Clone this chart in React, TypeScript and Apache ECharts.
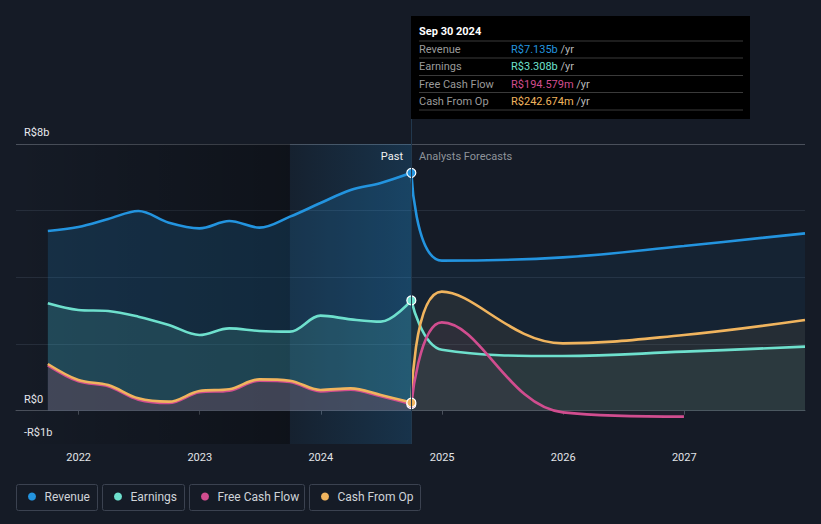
import React, { useEffect, useRef } from "react";
import * as echarts from "echarts";

// ---- data (R$ billions) ----
const PAST_DATES = [
  "2021-09-30", "2021-12-31", "2022-03-31", "2022-06-30", "2022-09-30", "2022-12-31",
  "2023-03-31", "2023-06-30", "2023-09-30", "2023-12-31", "2024-03-31", "2024-06-30", "2024-09-30",
];
const FORECAST_DATES = ["2024-09-30", "2024-12-31", "2025-12-31", "2026-12-31", "2027-12-31"];
const FCF_FORECAST_DATES = ["2024-09-30", "2024-12-31", "2025-12-31", "2026-12-31"];

const REVENUE_PAST = [5.39, 5.51, 5.75, 5.99, 5.64, 5.47, 5.69, 5.49, 5.82, 6.23, 6.62, 6.83, 7.135];
const EARNINGS_PAST = [3.22, 3.02, 2.99, 2.82, 2.57, 2.27, 2.47, 2.39, 2.37, 2.85, 2.74, 2.67, 3.308];
const FCF_PAST = [1.36, 0.88, 0.73, 0.33, 0.23, 0.55, 0.6, 0.9, 0.86, 0.58, 0.63, 0.43, 0.194579];
const CFO_PAST = [1.4, 0.92, 0.77, 0.37, 0.27, 0.59, 0.64, 0.94, 0.9, 0.62, 0.67, 0.47, 0.242674];

const REVENUE_FC = [7.135, 4.5, 4.6, 4.94, 5.32];
const EARNINGS_FC = [3.308, 1.83, 1.64, 1.77, 1.92];
const CFO_FC = [0.242674, 3.57, 2.02, 2.27, 2.72];
const FCF_FC = [0.194579, 2.65, -0.05, -0.18];

const SERIES_NAMES = ["Revenue", "Earnings", "Free Cash Flow", "Cash From Op"];
const SERIES_COLORS = ["#2394df", "#6ee0cd", "#d14d8f", "#f0b45e"];

const Y_LABEL_VALUES = [-1, 0, 8];
const Y_LABEL_TEXTS = ["-R$1b", "R$0", "R$8b"];

const X_MIN = "2021-06-26";
const X_MAX = "2027-12-31";
const BAND_START = "2023-09-30";
const NOW_DATE = "2024-09-30";

const FONT = "Roboto, sans-serif";
const MONTHS = ["Jan", "Feb", "Mar", "Apr", "May", "Jun", "Jul", "Aug", "Sep", "Oct", "Nov", "Dec"];

function fmtDate(s: string) {
  const [y, m, d] = s.split("-").map(Number);
  return `${MONTHS[m - 1]} ${d} ${y}`;
}
function fmtMoney(v: number) {
  return v >= 1 ? `R$${v.toFixed(3)}b` : `R$${(v * 1000).toFixed(3)}m`;
}

function mkSeries(
  name: string,
  dates: string[],
  vals: number[],
  color: string,
  fill: string,
  past: boolean
) {
  const n = vals.length;
  return {
    name,
    type: "line",
    z: past ? 3 : 2,
    data: dates.map((d, i) => [d, vals[i]]),
    smooth: past ? 0.35 : 0.4,
    symbol: "circle",
    showSymbol: past,
    symbolSize: past ? (_v: any, p: any) => (p.dataIndex === n - 1 ? 9 : 0) : 0,
    itemStyle: { color, borderColor: "#ffffff", borderWidth: 1.2 },
    lineStyle: { color, width: 2.6 },
    areaStyle: { color: fill },
    silent: true,
    emphasis: { disabled: true },
  };
}

export default function App() {
  const ref = useRef<HTMLDivElement>(null);

  useEffect(() => {
    if (!ref.current) return;
    const chart = echarts.init(ref.current, undefined, { renderer: "svg" });

    const lastIdx = PAST_DATES.length - 1;
    const tipValues = [REVENUE_PAST[lastIdx], EARNINGS_PAST[lastIdx], FCF_PAST[lastIdx], CFO_PAST[lastIdx]];

    const splitColors = [
      "rgba(0,0,0,0)", // -1 (axis line drawn by x axis)
      "#b9bec6", // 0
      "rgba(0,0,0,0)",
      "#262e3b",
      "rgba(0,0,0,0)",
      "#262e3b",
      "rgba(0,0,0,0)",
      "#262e3b",
      "rgba(0,0,0,0)",
      "#4a505b", // 8
    ];

    const graphics: any[] = [];
    // tooltip box
    graphics.push({
      type: "rect",
      shape: { x: 411, y: 16, width: 339, height: 103 },
      style: { fill: "#000000" },
      z: 100,
    });
    graphics.push({
      type: "text",
      x: 419,
      y: 31,
      style: { text: fmtDate(NOW_DATE), fill: "#ffffff", font: `bold 11px ${FONT}`, verticalAlign: "middle" },
      z: 101,
    });
    const rowY = [49.5, 66.5, 84, 101];
    const sepY = [41, 58, 75.5, 92.5, 110];
    sepY.forEach((y) =>
      graphics.push({
        type: "line",
        shape: { x1: 419, y1: y, x2: 743, y2: y },
        style: { stroke: "#3a3a3a", lineWidth: 1 },
        z: 101,
      })
    );
    SERIES_NAMES.forEach((nm, i) => {
      graphics.push({
        type: "text",
        x: 419,
        y: rowY[i],
        style: { text: nm, fill: "#9a9a9a", font: `11px ${FONT}`, verticalAlign: "middle" },
        z: 101,
      });
      graphics.push({
        type: "text",
        x: 511,
        y: rowY[i],
        style: {
          text: `{v|${fmtMoney(tipValues[i])}} {u|/yr}`,
          font: `11px ${FONT}`,
          verticalAlign: "middle",
          rich: {
            v: { fill: SERIES_COLORS[i], font: `11px ${FONT}` },
            u: { fill: "#b8b8b8", font: `11px ${FONT}` },
          },
        },
        z: 101,
      });
    });
    // vertical line above grid
    graphics.push({
      type: "line",
      shape: { x1: 411.5, y1: 119, x2: 411.5, y2: 144 },
      style: { stroke: "#22384d", lineWidth: 1 },
      z: 50,
    });
    // Past / Forecast labels
    graphics.push({
      type: "text",
      x: 403,
      y: 156,
      style: { text: "Past", fill: "#f0f0f0", font: `11px ${FONT}`, align: "right", verticalAlign: "middle" },
      z: 60,
    });
    graphics.push({
      type: "text",
      x: 419,
      y: 156,
      style: { text: "Analysts Forecasts", fill: "#8e939a", font: `11px ${FONT}`, align: "left", verticalAlign: "middle" },
      z: 60,
    });
    // legend
    const legendBoxes = [
      { x: 16.5, w: 81 },
      { x: 102.5, w: 82 },
      { x: 189.5, w: 115 },
      { x: 309.5, w: 111 },
    ];
    SERIES_NAMES.forEach((nm, i) => {
      const b = legendBoxes[i];
      graphics.push({
        type: "rect",
        shape: { x: b.x, y: 484.5, width: b.w, height: 26, r: 2 },
        style: { fill: "rgba(0,0,0,0)", stroke: "#3b4250", lineWidth: 1 },
      });
      graphics.push({
        type: "circle",
        shape: { cx: b.x + 15.5, cy: 496.5, r: 4 },
        style: { fill: SERIES_COLORS[i] },
      });
      graphics.push({
        type: "text",
        x: b.x + 28,
        y: 496.5,
        style: { text: nm, fill: "#cfd3d8", font: `12px ${FONT}`, verticalAlign: "middle" },
      });
    });

    const option: any = {
      animation: false,
      backgroundColor: "#151b26",
      textStyle: { fontFamily: FONT },
      grid: { left: 16, right: 16, top: 144, bottom: 80, containLabel: false },
      xAxis: {
        type: "time",
        min: X_MIN,
        max: X_MAX,
        splitNumber: 7,
        minInterval: 365 * 24 * 3600 * 1000,
        axisLine: { show: true, lineStyle: { color: "#4a505b", width: 1 } },
        axisTick: { show: true, length: 4, lineStyle: { color: "#4a505b" } },
        axisLabel: {
          color: "#e2e4e8",
          fontSize: 11,
          margin: 8,
          formatter: "{yyyy}",
          showMinLabel: false,
          showMaxLabel: false,
          fontFamily: FONT,
        },
        splitLine: { show: false },
      },
      yAxis: {
        type: "value",
        min: -1,
        max: 8,
        interval: 1,
        axisLine: { show: false },
        axisTick: { show: false },
        axisLabel: {
          inside: true,
          margin: 8,
          color: "#e8eaee",
          fontSize: 11,
          fontFamily: FONT,
          verticalAlign: "bottom",
          padding: [0, 0, 6, 0],
          formatter: (v: number) => {
            const k = Y_LABEL_VALUES.indexOf(v);
            return k >= 0 ? Y_LABEL_TEXTS[k] : "";
          },
        },
        splitLine: { show: true, lineStyle: { color: splitColors, width: 1 } },
      },
      graphic: graphics,
      series: [
        {
          name: "bg",
          type: "line",
          z: 1,
          data: [],
          silent: true,
          markArea: {
            silent: true,
            data: [
              [
                {
                  xAxis: X_MIN,
                  itemStyle: {
                    color: {
                      type: "linear",
                      x: 0, y: 0, x2: 1, y2: 0,
                      colorStops: [
                        { offset: 0, color: "rgba(0,0,0,0)" },
                        { offset: 1, color: "rgba(0,0,0,0.32)" },
                      ],
                    },
                  },
                },
                { xAxis: BAND_START },
              ],
              [
                {
                  xAxis: BAND_START,
                  itemStyle: {
                    color: {
                      type: "linear",
                      x: 0, y: 0, x2: 1, y2: 0,
                      colorStops: [
                        { offset: 0, color: "rgba(35,148,223,0.05)" },
                        { offset: 1, color: "rgba(35,148,223,0.2)" },
                      ],
                    },
                  },
                },
                { xAxis: NOW_DATE },
              ],
            ],
          },
          markLine: {
            silent: true,
            symbol: "none",
            label: { show: false },
            lineStyle: { color: "#22384d", width: 1, type: "solid" },
            data: [{ xAxis: NOW_DATE }],
          },
        },
        mkSeries(SERIES_NAMES[0], PAST_DATES, REVENUE_PAST, SERIES_COLORS[0], "rgba(35,148,223,0.25)", true),
        mkSeries(SERIES_NAMES[1], PAST_DATES, EARNINGS_PAST, SERIES_COLORS[1], "rgba(104,224,204,0.2)", true),
        mkSeries(SERIES_NAMES[2], PAST_DATES, FCF_PAST, SERIES_COLORS[2], "rgba(210,79,144,0.15)", true),
        mkSeries(SERIES_NAMES[3], PAST_DATES, CFO_PAST, SERIES_COLORS[3], "rgba(85,70,80,0.6)", true),
        mkSeries(SERIES_NAMES[0], FORECAST_DATES, REVENUE_FC, SERIES_COLORS[0], "rgba(35,148,223,0.1)", false),
        mkSeries(SERIES_NAMES[1], FORECAST_DATES, EARNINGS_FC, SERIES_COLORS[1], "rgba(104,224,204,0.12)", false),
        mkSeries(SERIES_NAMES[3], FORECAST_DATES, CFO_FC, SERIES_COLORS[3], "rgba(100,85,60,0.3)", false),
        mkSeries(SERIES_NAMES[2], FCF_FORECAST_DATES, FCF_FC, SERIES_COLORS[2], "rgba(210,79,144,0.07)", false),
      ],
    };

    chart.setOption(option);
    return () => chart.dispose();
  }, []);

  return (
    <div
      ref={ref}
      style={{ position: "fixed", left: 0, top: 0, width: 821, height: 524 }}
    />
  );
}
